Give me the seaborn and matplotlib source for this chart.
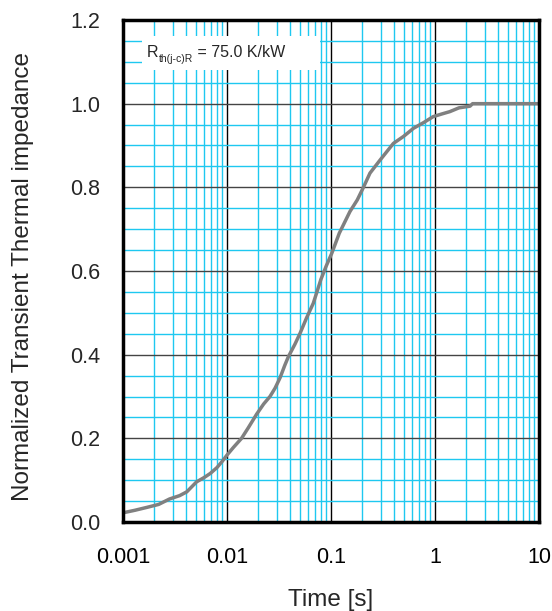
import numpy as np
import pandas as pd
import matplotlib
matplotlib.use("Agg")
import matplotlib.pyplot as plt
import seaborn as sns
from matplotlib.ticker import LogLocator, MultipleLocator, FixedLocator, FixedFormatter
from matplotlib.patches import Rectangle

time_s = [0.001, 0.0013, 0.0017, 0.0022, 0.0028, 0.0035, 0.0041, 0.0051, 0.0060, 0.0069,
          0.0080, 0.0090, 0.0100, 0.0115, 0.0138, 0.0160, 0.0193, 0.0225, 0.0259, 0.0290,
          0.0324, 0.0360, 0.0389, 0.0450, 0.0504, 0.0580, 0.0676, 0.0800, 0.0900, 0.1016,
          0.1200, 0.1520, 0.1790, 0.2050, 0.2370, 0.2960, 0.3980, 0.5000, 0.6200, 0.7800,
          0.9600, 1.1500, 1.3900, 1.7000, 2.1700, 2.3000, 5.0, 10.0]
zth_norm = [0.022, 0.028, 0.035, 0.042, 0.055, 0.063, 0.072, 0.096, 0.106, 0.116,
            0.130, 0.145, 0.160, 0.178, 0.200, 0.225, 0.258, 0.282, 0.300, 0.320,
            0.345, 0.375, 0.395, 0.425, 0.451, 0.487, 0.523, 0.580, 0.612, 0.642,
            0.690, 0.742, 0.770, 0.800, 0.834, 0.865, 0.905, 0.922, 0.941, 0.955,
            0.969, 0.975, 0.981, 0.990, 0.994, 1.000, 1.000, 1.000]
x_ticks = [0.001, 0.01, 0.1, 1, 10]
x_tick_labels = ["0.001", "0.01", "0.1", "1", "10"]
y_ticks = [0.0, 0.2, 0.4, 0.6, 0.8, 1.0, 1.2]
y_tick_labels = ["0.0", "0.2", "0.4", "0.6", "0.8", "1.0", "1.2"]
x_label = "Time [s]"
y_label = "Normalized Transient Thermal impedance"
note_main = "R"
note_sub = "th(j-c)R"
note_rest = " = 75.0 K/kW"

sns.set_style("white")
plt.rcParams['font.family'] = ['Liberation Sans', 'DejaVu Sans']

fig = plt.figure(figsize=(5.52, 6.11), dpi=100)
ax = fig.add_axes([123/552, 1 - 522/611, 416/552, 502/611])

df = pd.DataFrame({"t": time_s, "z": zth_norm})
sns.lineplot(data=df, x="t", y="z", ax=ax, color="#808080", linewidth=2.5, zorder=5)

ax.set_xscale("log")
ax.set_xlim(0.001, 10)
ax.set_ylim(0, 1.2)

ax.xaxis.set_major_locator(FixedLocator(x_ticks))
ax.xaxis.set_major_formatter(FixedFormatter(x_tick_labels))
ax.xaxis.set_minor_locator(LogLocator(base=10, subs=np.arange(2, 10), numticks=20))
ax.xaxis.set_minor_formatter(plt.NullFormatter())
ax.yaxis.set_major_locator(FixedLocator(y_ticks))
ax.yaxis.set_major_formatter(FixedFormatter(y_tick_labels))
ax.yaxis.set_minor_locator(MultipleLocator(0.05))

ax.grid(which="minor", color="#1ec8f0", linewidth=1.0, zorder=1)
ax.grid(which="major", axis="x", color="#000000", linewidth=1.0, zorder=2)
ax.grid(which="major", axis="y", color="#444444", linewidth=1.0, zorder=2)
ax.set_axisbelow(True)

ax.tick_params(axis="x", which="major", direction="in", length=4, width=1.5,
               labelsize=15.5, pad=18, colors="black")
ax.tick_params(axis="y", which="major", length=0, labelsize=15.5, pad=16.5)
ax.tick_params(which="minor", length=0)

for s in ax.spines.values():
    s.set_color("black")
    s.set_linewidth(2.5)
    s.set_zorder(6)

ax.set_xlabel(x_label, fontsize=17.5, labelpad=15)
ax.set_ylabel(y_label, fontsize=17.5)
ax.yaxis.set_label_coords(-0.213, 0.49)

# white note box
ax.add_patch(Rectangle((0.046, 0.900), 0.428, 0.068, transform=ax.transAxes,
                       facecolor="white", edgecolor="none", zorder=3))
t1 = ax.text(0.058, 0.927, note_main, transform=ax.transAxes, fontsize=11.5,
             va="baseline", ha="left", zorder=7)
t2 = ax.annotate(note_sub, xy=(1, 0), xycoords=t1, xytext=(0, -3),
                 textcoords="offset points", fontsize=7.5, va="bottom", ha="left", zorder=7)
t3 = ax.annotate(note_rest, xy=(1, 0), xycoords=t2, xytext=(0, 3),
                 textcoords="offset points", fontsize=11.5, va="bottom", ha="left", zorder=7)

fig.savefig("out.png", dpi=100)
